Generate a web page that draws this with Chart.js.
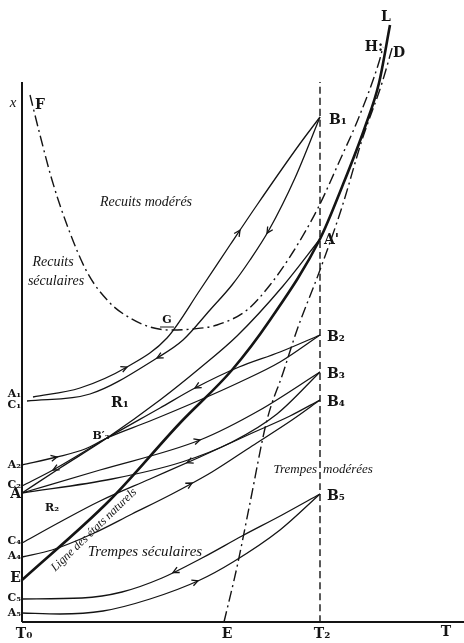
<!DOCTYPE html>
<html>
<head>
<meta charset="utf-8">
<script src="https://cdn.jsdelivr.net/npm/chart.js"></script>
<style>
  html, body { margin: 0; padding: 0; background: #fff; }
</style>
</head>
<body>
<canvas id="diagram" width="464" height="643"></canvas>
<script>
// Temperature T (from T0) and state variable x
const T2 = 298;
const xAxisTop = 540;

// heating / cooling paths, [T, x] pairs
const pathA1 = [[11,225],[58,234],[105,255],[145,284],[178,332],[208,377],[235,417],[277,477],[298,505]];
const pathC1 = [[5,221],[68,228],[135,264],[161,282],[188,312],[210,337],[228,362],[247,392],[273,444],[298,505]];
const pathA = [[0,129],[38,154],[85,184],[138,222],[178,254],[215,286],[261,336],[298,383]];
const pathA2 = [[0,157],[35,165],[63,173],[85,184],[128,201],[178,222],[218,240],[258,260],[298,287]];
const pathC2 = [[0,136],[31,152],[85,184],[138,214],[173,234],[217,255],[258,270],[298,287]];
const pathA3up = [[0,129],[78,152],[178,182],[238,212],[298,250]];
const pathA3down = [[0,129],[90,143],[160,160],[210,180],[255,208],[298,250]];
const pathC4 = [[0,79],[38,100],[78,121],[128,143],[178,165],[228,188],[268,206],[298,222]];
const pathA4 = [[0,65],[30,72],[70,88],[110,108],[150,128],[190,150],[230,176],[270,202],[298,222]];
const pathC5 = [[0,23],[60,24],[100,30],[140,44],[180,64],[220,86],[260,107],[298,128]];
const pathA5 = [[0,9],[38,8],[81,11],[128,23],[178,42],[211,60],[258,92],[298,128]];

// Ligne des états naturels (E ... A' ... L)
const naturalLine = [[0,42],[88,122],[158,199],[210,252],[248,302],[298,383],[320,435],[343,495],[357,539],[368,597]];
// dash-dot boundaries F G H and E D
const lineFGH = [[8,527],[18,487],[30,442],[45,397],[65,350],[88,319],[108,304],[128,295],[148,292],[171,293],[195,297],[225,312],[248,337],[271,370],[296,414],[318,462],[337,505],[357,560],[361,575]];
const lineED = [[202,0],[215,55],[228,119],[245,202],[261,249],[275,292],[298,352],[320,415],[340,482],[360,539],[371,577]];

// arrows: path, T position, direction (+1 towards T2, -1 back)
const arrows = [
  [pathA1, 105, 1], [pathA1, 218, 1],
  [pathC1, 135, -1], [pathC1, 245, -1],
  [pathA2, 35, 1],
  [pathC2, 31, -1], [pathC2, 173, -1],
  [pathA3up, 178, 1],
  [pathC4, 165, -1],
  [pathA4, 170, 1],
  [pathC5, 151, -1],
  [pathA5, 176, 1]
];

const toPts = arr => arr.map(p => ({ x: p[0], y: p[1] }));

function curve(arr, width, dash) {
  return {
    data: toPts(arr),
    showLine: true,
    borderColor: '#141414',
    borderWidth: width,
    borderDash: dash || [],
    pointRadius: 0,
    tension: 0.4,
    cubicInterpolationMode: 'monotone',
    fill: false,
    clip: false
  };
}

const dashDot = [11, 4, 2, 4];

const datasets = [
  curve([[0,0],[0,xAxisTop]], 2),
  curve([[0,0],[442,0]], 2),
  curve([[T2,0],[T2,xAxisTop]], 1.4, [7, 4]),
  curve(lineFGH, 1.4, dashDot),
  curve(lineED, 1.4, dashDot),
  curve(naturalLine, 2.6),
  curve(pathA1, 1.3), curve(pathC1, 1.3),
  curve(pathA, 1.3),
  curve(pathA2, 1.3), curve(pathC2, 1.3),
  curve(pathA3up, 1.3), curve(pathA3down, 1.3),
  curve(pathC4, 1.3), curve(pathA4, 1.3),
  curve(pathC5, 1.3), curve(pathA5, 1.3)
];

const serifB = 'bold 14px "DejaVu Serif", "Liberation Serif", serif';
const serifBs = 'bold 11px "DejaVu Serif", "Liberation Serif", serif';
const serifI = 'italic 14px "Liberation Serif", "DejaVu Serif", serif';

// [text, T, x, font, align, rotation]
const labels = [
  ['x', -9, 519, 'italic 15px "Liberation Serif", serif', 'center'],
  ['F', 18, 517, serifB, 'center'],
  ['Recuits modérés', 124, 420, serifI, 'center'],
  ['Recuits', 31, 360, serifI, 'center'],
  ['séculaires', 34, 341, serifI, 'center'],
  ['G', 145, 302, serifBs, 'center'],
  ['B₁', 307, 502, serifB, 'left'],
  ["A'", 302, 382, serifB, 'left'],
  ['L', 364, 605, serifB, 'center'],
  ['H:', 352, 575, serifB, 'center'],
  ['D', 377, 569, serifB, 'center'],
  ['A₁', -1, 228, serifBs, 'right'],
  ['C₁', -1, 217, serifBs, 'right'],
  ['R₁', 98, 219, serifB, 'center'],
  ['B′₂', 79, 186, serifBs, 'center'],
  ['A₂', -1, 157, serifBs, 'right'],
  ['C₂', -1, 137, serifBs, 'right'],
  ['A', -1, 128, serifB, 'right'],
  ['R₂', 30, 114, serifBs, 'center'],
  ['C₄', -1, 81, serifBs, 'right'],
  ['A₄', -1, 66, serifBs, 'right'],
  ['E', -1, 44, serifB, 'right'],
  ['C₅', -1, 24, serifBs, 'right'],
  ['A₅', -1, 9, serifBs, 'right'],
  ['T₀', 2, -12, serifB, 'center'],
  ['E', 205, -12, serifB, 'center'],
  ['T₂', 300, -12, serifB, 'center'],
  ['T', 424, -10, serifB, 'center'],
  ['B₂', 305, 285, serifB, 'left'],
  ['B₃', 305, 248, serifB, 'left'],
  ['B₄', 305, 220, serifB, 'left'],
  ['B₅', 305, 126, serifB, 'left'],
  ['Trempes', 295, 152, 'italic 13px "Liberation Serif", serif', 'right'],
  ['modérées', 301, 152, 'italic 13px "Liberation Serif", serif', 'left'],
  ['Trempes séculaires', 123, 70, 'italic 15px "Liberation Serif", serif', 'center'],
  ['Ligne des états naturels', 72, 92, 'italic 12px "Liberation Serif", serif', 'center', -44]
];

function valueAt(arr, t) {
  for (let i = 0; i < arr.length - 1; i++) {
    const a = arr[i], b = arr[i + 1];
    if (t >= a[0] && t <= b[0]) {
      const f = (t - a[0]) / (b[0] - a[0]);
      return { y: a[1] + f * (b[1] - a[1]), dx: b[0] - a[0], dy: b[1] - a[1] };
    }
  }
  return null;
}

const decorations = {
  id: 'decorations',
  afterDatasetsDraw(chart) {
    const ctx = chart.ctx;
    const sx = chart.scales.x, sy = chart.scales.y;
    ctx.save();
    ctx.fillStyle = '#141414';
    ctx.strokeStyle = '#141414';
    // arrow heads
    ctx.lineWidth = 1.3;
    arrows.forEach(([arr, t, dir]) => {
      const v = valueAt(arr, t);
      if (!v) return;
      const px = sx.getPixelForValue(t), py = sy.getPixelForValue(v.y);
      const p2x = sx.getPixelForValue(t + v.dx), p2y = sy.getPixelForValue(v.y + v.dy);
      let ux = p2x - px, uy = p2y - py;
      const len = Math.hypot(ux, uy);
      ux = ux / len * dir; uy = uy / len * dir;
      const s = 6, w = 3;
      ctx.beginPath();
      ctx.moveTo(px - ux * s + uy * w, py - uy * s - ux * w);
      ctx.lineTo(px, py);
      ctx.lineTo(px - ux * s - uy * w, py - uy * s + ux * w);
      ctx.stroke();
    });
    // texts
    ctx.textBaseline = 'middle';
    labels.forEach(([text, t, x, font, align, rot]) => {
      ctx.save();
      ctx.font = font;
      ctx.textAlign = align;
      ctx.translate(sx.getPixelForValue(t), sy.getPixelForValue(x));
      if (rot) ctx.rotate(rot * Math.PI / 180);
      ctx.fillText(text, 0, 0);
      ctx.restore();
    });
    // underline of G
    const gx = sx.getPixelForValue(145), gy = sy.getPixelForValue(302);
    ctx.lineWidth = 1;
    ctx.beginPath();
    ctx.moveTo(gx - 7, gy + 7);
    ctx.lineTo(gx + 7, gy + 7);
    ctx.stroke();
    ctx.restore();
  }
};

new Chart(document.getElementById('diagram'), {
  type: 'scatter',
  data: { datasets: datasets },
  options: {
    responsive: false,
    animation: false,
    layout: { padding: { left: 22, right: 0, top: 0, bottom: 21 } },
    plugins: { legend: { display: false }, tooltip: { enabled: false } },
    scales: {
      x: { type: 'linear', min: 0, max: 442, display: false },
      y: { type: 'linear', min: 0, max: 622, display: false }
    }
  },
  plugins: [decorations]
});
</script>
</body>
</html>
